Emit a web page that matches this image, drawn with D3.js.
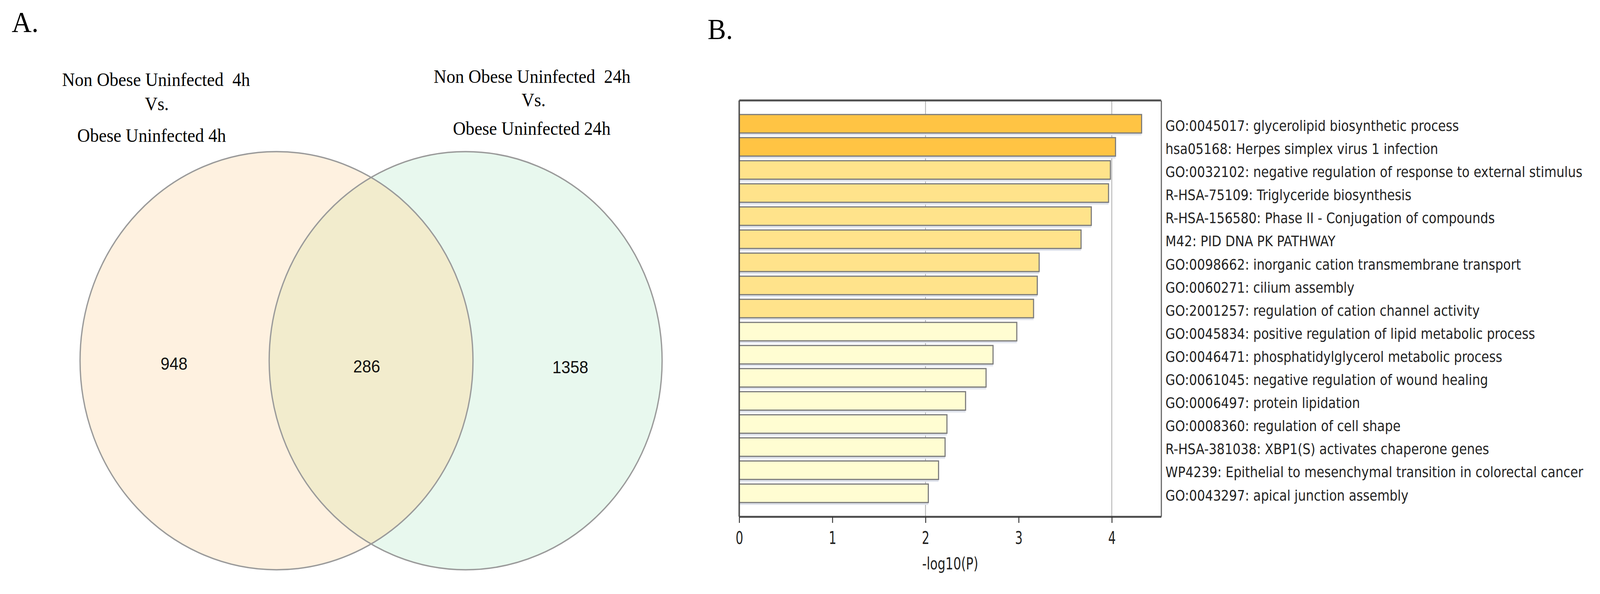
<!DOCTYPE html>
<html>
<head>
<meta charset="utf-8">
<script src="https://cdn.jsdelivr.net/npm/d3@7"></script>
<style>
  html, body { margin: 0; padding: 0; background: #ffffff; width: 100%; height: 100%; overflow: hidden; }
  svg { display: block; width: 100vw; height: 100vh; }
</style>
</head>
<body>
<svg id="chart" viewBox="0 0 4357 1520" preserveAspectRatio="none"></svg>
<script>
// ---------------- DATA ----------------
// Panel A: Venn diagram
const vennTitleLeft = ["Non Obese Uninfected\u00a0 4h", "Vs.", "Obese Uninfected 4h"];
const vennTitleRight = ["Non Obese Uninfected\u00a0 24h", "Vs.", "Obese Uninfected 24h"];
const vennRegions = ["left only", "overlap", "right only"];
const vennCounts = [948, 286, 1358];

// Panel B: enrichment bar chart
const termLabels = [
  "GO:0045017: glycerolipid biosynthetic process",
  "hsa05168: Herpes simplex virus 1 infection",
  "GO:0032102: negative regulation of response to external stimulus",
  "R-HSA-75109: Triglyceride biosynthesis",
  "R-HSA-156580: Phase II - Conjugation of compounds",
  "M42: PID DNA PK PATHWAY",
  "GO:0098662: inorganic cation transmembrane transport",
  "GO:0060271: cilium assembly",
  "GO:2001257: regulation of cation channel activity",
  "GO:0045834: positive regulation of lipid metabolic process",
  "GO:0046471: phosphatidylglycerol metabolic process",
  "GO:0061045: negative regulation of wound healing",
  "GO:0006497: protein lipidation",
  "GO:0008360: regulation of cell shape",
  "R-HSA-381038: XBP1(S) activates chaperone genes",
  "WP4239: Epithelial to mesenchymal transition in colorectal cancer",
  "GO:0043297: apical junction assembly"
];
const logP = [4.32, 4.04, 3.985, 3.965, 3.78, 3.67, 3.22, 3.20, 3.16, 2.98, 2.725, 2.65, 2.43, 2.23, 2.21, 2.14, 2.03];
const colorTier = [0, 0, 1, 1, 1, 1, 1, 1, 1, 2, 2, 2, 2, 2, 2, 2, 2];
const xTicks = [0, 1, 2, 3, 4];
const xGrid = [2, 4];
const xAxisTitle = "-log10(P)";

// ---------------- DRAW ----------------
const svg = d3.select("#chart");
const serif = "'Liberation Serif', 'Times New Roman', serif";
const sans = "'Liberation Sans', Arial, sans-serif";
const dejavu = "'DejaVu Sans', Verdana, sans-serif";

svg.append("rect").attr("x", 0).attr("y", 0).attr("width", 4357).attr("height", 1520).attr("fill", "#fff");

// Panel letters
svg.append("text").attr("x", 32).attr("y", 82)
  .attr("font-family", serif).attr("font-size", 75).attr("fill", "#000").text("A.");
svg.append("text").attr("x", 1927).attr("y", 100)
  .attr("font-family", serif).attr("font-size", 75).attr("fill", "#000").text("B.");

// ----- Venn -----
const vx = d3.scaleLinear().domain([0, 1]).range([753, 1268]);
const vr = 535, vcy = 923;
const circles = [
  { pos: 0, fill: "#fef1e0" },
  { pos: 1, fill: "#e8f8ee" }
];
const defs = svg.append("defs");
defs.append("clipPath").attr("id", "clipLeft")
  .append("circle").attr("cx", vx(0)).attr("cy", vcy).attr("r", vr);

const venn = svg.append("g");
venn.selectAll("circle.fill").data(circles).join("circle")
  .attr("class", "fill")
  .attr("cx", d => vx(d.pos)).attr("cy", vcy).attr("r", vr)
  .attr("fill", d => d.fill);
venn.append("circle")
  .attr("cx", vx(1)).attr("cy", vcy).attr("r", vr)
  .attr("clip-path", "url(#clipLeft)")
  .attr("fill", "#f2eccd");
venn.selectAll("circle.edge").data(circles).join("circle")
  .attr("class", "edge")
  .attr("cx", d => vx(d.pos)).attr("cy", vcy).attr("r", vr)
  .attr("fill", "none").attr("stroke", "#9a9a9a").attr("stroke-width", 3.5);

const countPos = [
  { x: vx(0) - 279, y: 930 },
  { x: (vx(0) + vx(1)) / 2 - 12, y: 937 },
  { x: vx(1) + 285, y: 939 }
];
venn.selectAll("text.count").data(vennCounts).join("text")
  .attr("class", "count")
  .attr("x", (d, i) => countPos[i].x).attr("y", (d, i) => countPos[i].y)
  .attr("dy", "0.36em")
  .attr("text-anchor", "middle")
  .attr("font-family", sans).attr("font-size", 44).attr("fill", "#111")
  .text(d => d);

function titleBlock(lines, cx, baselines) {
  svg.append("g").selectAll("text").data(lines).join("text")
    .attr("x", (d, i) => cx[i]).attr("y", (d, i) => baselines[i])
    .attr("text-anchor", "middle")
    .attr("font-family", serif).attr("font-size", 48).attr("fill", "#000")
    .text(d => d);
}
titleBlock(vennTitleLeft, [425, 427, 413], [220, 282, 363]);
titleBlock(vennTitleRight, [1449, 1453, 1448], [212, 272, 345]);

// ----- Bar chart -----
const plot = { left: 2013, right: 3162, top: 257, bottom: 1322 };
const x = d3.scaleLinear().domain([0, 4.53]).range([plot.left, plot.right]);
const y = d3.scaleBand().domain(termLabels).range([plot.top, plot.bottom])
  .paddingInner(0.2).paddingOuter(0.61);
const tierColors = ["#ffc444", "#ffe38b", "#fffdd2"];

const bars = svg.append("g");
bars.selectAll("line.grid").data(xGrid).join("line")
  .attr("class", "grid")
  .attr("x1", d => x(d)).attr("x2", d => x(d))
  .attr("y1", plot.top).attr("y2", plot.bottom)
  .attr("stroke", "#a8a8a8").attr("stroke-width", 2);

bars.selectAll("rect.shadow").data(termLabels).join("rect")
  .attr("class", "shadow")
  .attr("x", x(0)).attr("y", d => y(d) + y.bandwidth() + 1)
  .attr("width", (d, i) => x(logP[i]) - x(0)).attr("height", 5)
  .attr("fill", "#dfe3ec");

bars.selectAll("rect.bar").data(termLabels).join("rect")
  .attr("class", "bar")
  .attr("x", x(0)).attr("y", d => y(d))
  .attr("width", (d, i) => x(logP[i]) - x(0))
  .attr("height", y.bandwidth())
  .attr("fill", (d, i) => tierColors[colorTier[i]])
  .attr("stroke", "#7a7a7a").attr("stroke-width", 3);

bars.append("line")
  .attr("x1", plot.left).attr("x2", plot.right)
  .attr("y1", plot.top).attr("y2", plot.top)
  .attr("stroke", "#505050").attr("stroke-width", 5);
bars.append("line")
  .attr("x1", x(0)).attr("x2", x(0))
  .attr("y1", plot.top).attr("y2", plot.bottom)
  .attr("stroke", "#505050").attr("stroke-width", 4);

const yAxis = svg.append("g")
  .attr("transform", `translate(${plot.right},0)`)
  .call(d3.axisRight(y).tickSize(0).tickSizeOuter(0).tickPadding(13));
yAxis.select(".domain").attr("stroke", "#606060").attr("stroke-width", 3);
yAxis.selectAll(".tick text")
  .attr("font-family", dejavu).attr("font-size", 38).attr("fill", "#222")
  .attr("dy", "0.48em")
  .attr("transform", "scale(0.9,1)");

const xAxis = svg.append("g")
  .attr("transform", `translate(0,${plot.bottom})`)
  .call(d3.axisBottom(x).tickValues(xTicks).tickFormat(d3.format("d"))
    .tickSize(16).tickSizeOuter(0).tickPadding(22));
xAxis.select(".domain").attr("stroke", "#505050").attr("stroke-width", 5);
xAxis.selectAll(".tick line").attr("stroke", "#333").attr("stroke-width", 2.5);
xAxis.selectAll(".tick text")
  .attr("font-family", dejavu).attr("font-size", 45).attr("fill", "#222")
  .attr("transform", "scale(0.72,1)");

svg.append("g").attr("transform", `translate(${(plot.left + plot.right) / 2},1457)`)
  .append("text")
  .attr("text-anchor", "middle")
  .attr("transform", "scale(0.8,1)")
  .attr("font-family", dejavu).attr("font-size", 42).attr("fill", "#222")
  .text(xAxisTitle);
</script>
</body>
</html>
